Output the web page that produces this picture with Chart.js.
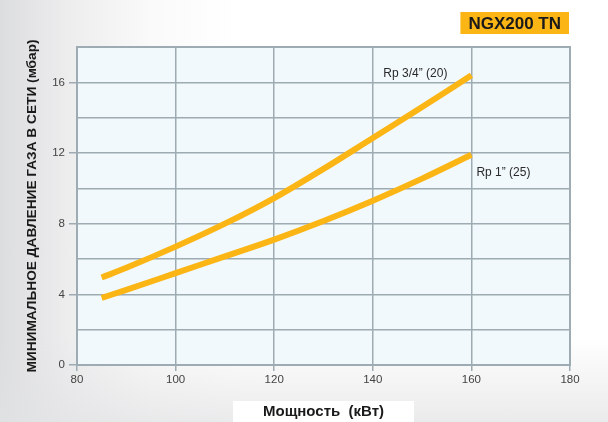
<!DOCTYPE html>
<html>
<head>
<meta charset="utf-8">
<script src="https://cdn.jsdelivr.net/npm/chart.js@4.4.1/dist/chart.umd.min.js"></script>
<style>
  html, body { margin:0; padding:0; }
  body {
    width:608px; height:422px; overflow:hidden;
    background:
      linear-gradient(to bottom, rgba(255,255,255,0) 80%, rgba(225,226,227,0.7) 100%),
      linear-gradient(to right, #dcdddf 0%, #eeeeef 12%, #fafafa 25%, #ffffff 40%);
  }
  #wrap { position:relative; width:608px; height:422px; }
</style>
</head>
<body>
<div id="wrap"><canvas id="c" width="608" height="422"></canvas></div>
<script>
// ---- data ----
const powerKW = [85, 90, 100, 110, 120, 130, 140, 150, 160];
const rp34 = [4.95, 5.5, 6.7, 8.0, 9.45, 11.1, 12.85, 14.6, 16.4];
const rp1  = [3.8, 4.25, 5.2, 6.15, 7.1, 8.15, 9.3, 10.55, 11.9];
const seriesNames = ['Rp 3/4\u201d (20)', 'Rp 1\u201d (25)'];
const xTicks = [80, 100, 120, 140, 160, 180];
const yTickLabels = [0, 4, 8, 12, 16];
const chartTitle = 'NGX200 TN';
const xTitle = 'Мощность  (кВт)';
const yTitle = 'МИНИМАЛЬНОЕ ДАВЛЕНИЕ ГАЗА В СЕТИ (мбар)';

const LINE = '#fbb514';
const GRID = '#9eabb2';
const FONT = "'Liberation Sans', Arial, sans-serif";

const toPts = (xs, ys) => xs.map((x, i) => ({x, y: ys[i]}));

const decor = {
  id: 'decor',
  beforeDraw(chart) {
    const {ctx, chartArea: a} = chart;
    ctx.save();
    ctx.fillStyle = '#f1f9fc';
    ctx.fillRect(a.left, a.top, a.right - a.left, a.bottom - a.top);
    // white box behind x-axis title
    ctx.font = 'bold 15px ' + FONT;
    const w = ctx.measureText(xTitle).width;
    const cx = (a.left + a.right) / 2;
    ctx.fillStyle = '#ffffff';
    ctx.fillRect(cx - w / 2 - 30, 401, w + 60, 21);
    ctx.restore();
  },
  afterDraw(chart) {
    const {ctx, chartArea: a, scales} = chart;
    ctx.save();
    // border
    ctx.strokeStyle = GRID; ctx.lineWidth = 2;
    ctx.strokeRect(a.left, a.top, a.right - a.left, a.bottom - a.top);
    // title box
    ctx.font = 'bold 17px ' + FONT;
    const tw = ctx.measureText(chartTitle).width;
    const bx1 = a.right - 1, bx0 = bx1 - tw - 16;
    ctx.fillStyle = LINE;
    ctx.fillRect(bx0, 12, bx1 - bx0, 22);
    ctx.fillStyle = '#1a1a1a';
    ctx.textAlign = 'center'; ctx.textBaseline = 'middle';
    ctx.fillText(chartTitle, (bx0 + bx1) / 2, 24);
    // series labels
    ctx.font = '12px ' + FONT;
    ctx.fillStyle = '#2a2a2a';
    const n = powerKW.length - 1;
    const ex = scales.x.getPixelForValue(powerKW[n]);
    const e1 = scales.y.getPixelForValue(rp34[n]);
    const e2 = scales.y.getPixelForValue(rp1[n]);
    ctx.textAlign = 'right';
    ctx.fillText(seriesNames[0], ex - 24, e1 - 2);
    ctx.textAlign = 'left';
    ctx.fillText(seriesNames[1], ex + 5, e2 + 18);
    ctx.restore();
  }
};

new Chart(document.getElementById('c'), {
  type: 'line',
  data: {
    datasets: [
      { label: seriesNames[0], data: toPts(powerKW, rp34) },
      { label: seriesNames[1], data: toPts(powerKW, rp1) }
    ].map(d => Object.assign(d, {
      borderColor: LINE, backgroundColor: LINE, borderWidth: 6,
      pointRadius: 0, cubicInterpolationMode: 'monotone', borderCapStyle: 'butt', fill: false
    }))
  },
  options: {
    responsive: false, animation: false,
    layout: { padding: { left: 0, right: 38, top: 47, bottom: 0 } },
    plugins: { legend: { display: false }, tooltip: { enabled: false }, title: { display: false } },
    scales: {
      x: {
        type: 'linear', min: 80, max: 180,
        afterBuildTicks: s => { s.ticks = xTicks.map(v => ({value: v})); },
        afterFit: s => { s.height = 57; },
        ticks: { color: '#444', font: { family: FONT, size: 11.5 }, padding: 2, maxRotation: 0 },
        grid: { color: GRID, lineWidth: 1.5, tickLength: 6, tickColor: GRID, drawTicks: true },
        border: { display: false },
        title: { display: true, text: xTitle, color: '#1a1a1a', font: { family: FONT, size: 15, weight: 'bold' }, padding: { top: 0, bottom: 1 } }
      },
      y: {
        type: 'linear', min: 0, max: 18,
        ticks: {
          stepSize: 2, color: '#444', font: { family: FONT, size: 11.5 }, padding: 4,
          callback: v => yTickLabels.includes(v) ? String(v) : ''
        },
        afterFit: s => { s.width = 77; },
        grid: {
          color: GRID, lineWidth: 1.5, tickLength: 8,
          tickColor: ctx => (ctx.tick && yTickLabels.includes(ctx.tick.value)) ? GRID : 'rgba(0,0,0,0)'
        },
        border: { display: false },
        title: { display: true, text: yTitle, color: '#1a1a1a', font: { family: FONT, size: 13.7, weight: 'bold' }, padding: { top: 24, bottom: 0 } }
      }
    }
  },
  plugins: [decor]
});
</script>
</body>
</html>
